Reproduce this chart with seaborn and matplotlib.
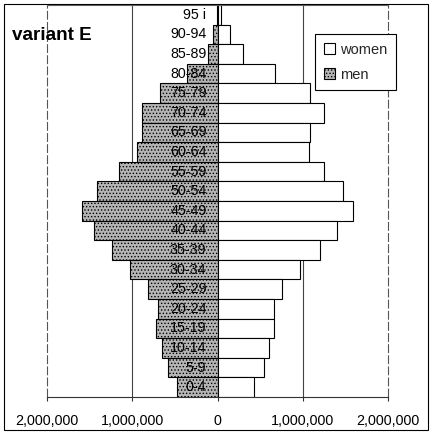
import matplotlib
matplotlib.use("Agg")
import matplotlib.pyplot as plt
from matplotlib.patches import Patch, Rectangle
from matplotlib.ticker import FuncFormatter
import numpy as np
import seaborn as sns

# ---- data (thousands of people) ----
ages = ['0-4', '5-9', '10-14', '15-19', '20-24', '25-29', '30-34', '35-39',
        '40-44', '45-49', '50-54', '55-59', '60-64', '65-69', '70-74',
        '75-79', '80-84', '85-89', '90-94', '95 i']
men_k = [470, 580, 650, 720, 700, 810, 1030, 1240, 1450, 1590, 1410, 1160,
         950, 880, 880, 680, 360, 110, 50, 10]
women_k = [430, 540, 600, 660, 660, 760, 970, 1200, 1400, 1590, 1470, 1250,
           1070, 1090, 1250, 1080, 670, 300, 150, 40]
xticks = [-2000000, -1000000, 0, 1000000, 2000000]
title = "variant E"
legend_labels = ["women", "men"]

sns.set_theme(style="white")
plt.rcParams['font.family'] = ['Liberation Sans', 'DejaVu Sans']
plt.rcParams['hatch.linewidth'] = 0.6
plt.rcParams['hatch.color'] = '#505050'

order = ages[::-1]
men = -np.array(men_k) * 1000
women = np.array(women_k) * 1000

fig = plt.figure(figsize=(4.30, 4.38), dpi=100)
ax = fig.add_axes([47/430, 1-397/438, 341/430, 392/438])

sns.barplot(x=men, y=ages, order=order, orient='h', color='#b5b5b5',
            saturation=1, width=1.0, edgecolor='black', linewidth=0.8, ax=ax)
men_patches = list(ax.patches)
for p in men_patches:
    p.set_hatch('.....')
sns.barplot(x=women, y=ages, order=order, orient='h', color='white',
            saturation=1, width=1.0, edgecolor='black', linewidth=0.8, ax=ax)

ax.set_xlim(-2000000, 2000000)
ax.set_ylim(len(ages) - 0.5, -0.5)
ax.set_xticks(xticks)
ax.xaxis.set_major_formatter(FuncFormatter(lambda v, p: f"{abs(int(v)):,}"))
ax.tick_params(axis='x', direction='out', length=3, width=0.8, color='#333333',
               pad=9, labelsize=10.3, labelcolor='black', bottom=True)
ax.set_yticks([])
ax.set_xlabel('')
ax.set_ylabel('')
for v in xticks:
    if v == 0:
        continue
    if abs(v) == 2000000:
        ax.axvline(v, color='#555555', lw=0.8, zorder=0, clip_on=False,
                   linestyle=(0, (8, 2)))
    else:
        ax.axvline(v, color='#444444', lw=0.8, zorder=0)
for s in ['left', 'right']:
    ax.spines[s].set_visible(False)
ax.spines['top'].set_color('#666666')
ax.spines['top'].set_linewidth(0.8)
ax.spines['top'].set_linestyle((0, (2, 1)))
ax.spines['bottom'].set_color('#333333')
ax.spines['bottom'].set_linewidth(0.8)

for i, lab in enumerate(order):
    ax.annotate(lab, xy=(0, i), xytext=(-8, 0), textcoords='offset points',
                ha='right', va='center', fontsize=10.3, color='black', zorder=5)

handles = [Patch(facecolor='white', edgecolor='black', linewidth=0.8),
           Patch(facecolor='#b5b5b5', edgecolor='black', linewidth=0.8, hatch='.....')]
leg = ax.legend(handles, legend_labels, loc='upper right',
                bbox_to_anchor=(1.023, 0.926), frameon=True, fancybox=False,
                edgecolor='black', fontsize=10.5, handlelength=0.8,
                handleheight=0.8, handletextpad=0.3, labelspacing=0.75,
                borderpad=0.6, borderaxespad=0)
leg.get_frame().set_linewidth(0.8)
leg.get_frame().set_alpha(1)
leg.set_zorder(10)

fig.text(12/430, 1-35/438, title, ha='left', va='center', fontsize=13.6,
         fontweight='bold', color='black')

fig.patches.append(Rectangle((4/430, 1-430/438), 424/430, 426/438,
                             transform=fig.transFigure, fill=False,
                             edgecolor='black', linewidth=0.8))

fig.savefig('out.png', dpi=100)
